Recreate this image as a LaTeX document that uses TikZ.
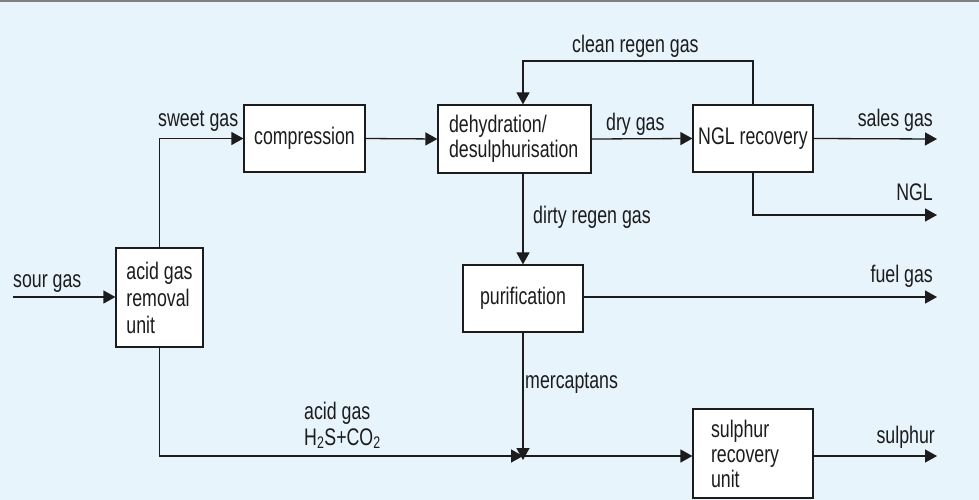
\documentclass[tikz,border=0pt]{standalone}
\usepackage{fontspec}
\setmainfont{Liberation Sans}[FakeStretch=0.74]
\usetikzlibrary{arrows.meta}
\definecolor{bg}{HTML}{E8F4FC}
\definecolor{ink}{HTML}{1C1C1C}
\definecolor{rulegray}{HTML}{808080}
\begin{document}
\begin{tikzpicture}[x=1pt,y=-1pt,
  flow/.style={draw=ink, line width=1.3pt, -{Triangle[length=12pt,width=13pt]}},
  unitbox/.style={draw=ink, fill=white, line width=1.2pt, inner sep=0pt,
    font=\fontsize{24}{25}\selectfont, text=ink},
  lbl/.style={font=\fontsize{24}{25}\selectfont, text=ink, inner sep=0pt},
]
% page background and top rule
\useasboundingbox (0,0) rectangle (979,500);
\fill[bg] (0,0) rectangle (979,500);
\fill[rulegray] (0,0) rectangle (979,2);

% process units
\node[unitbox, minimum width=87pt, minimum height=99pt, align=left,
  font=\fontsize{24}{27}\selectfont] (agru) at (159.5,297.5)
  {acid gas\\removal\\unit};
\node[unitbox, minimum width=121pt, minimum height=67pt] (comp) at (304.5,138.5) {compression};
\node[unitbox, minimum height=68pt, text width=131pt, inner xsep=11pt, align=left] (dehy) at (514.5,139)
  {dehydration/\\desulphurisation};
\node[unitbox, minimum width=120pt, minimum height=67pt] (ngl) at (753,138.5) {NGL recovery};
\node[unitbox, minimum width=120pt, minimum height=67pt] (puri) at (523,298.5) {purification};
\node[unitbox, minimum height=89pt, text width=84pt, inner xsep=18pt, align=left] (sru) at (753,453.5)
  {sulphur\\recovery\\unit};

% free ends and bends
\coordinate (sourStart) at (13,297);
\coordinate (regen) at (523,61);
\coordinate (salesEnd) at (937,139);
\coordinate (nglEnd) at (937,215);
\coordinate (fuelEnd) at (937,297);
\coordinate (mix) at (523,456);
\coordinate (sulphurEnd) at (937,456);

% streams
\draw[flow] (sourStart) -- (sourStart -| agru.west);
\draw[flow] (agru.north) |- (comp.west);
\draw[flow] (comp.east) -- (dehy.west);
\draw[flow] (dehy.east) -- (ngl.west);
\draw[flow] (ngl.north) |- (regen) -- (regen |- dehy.north);
\draw[flow] (ngl.east) -- (salesEnd);
\draw[flow] (ngl.south) |- (nglEnd);
\draw[flow] (puri.north |- dehy.south) -- (puri.north);
\draw[flow] (puri.east |- fuelEnd) -- (fuelEnd);
\draw[flow] (agru.south) |- (mix);
\draw[flow] (puri.south) -- ([yshift=-4pt]mix);
\draw[flow] (mix) -- (mix -| sru.west);
\draw[flow] (sru.east |- mix) -- (sulphurEnd);

% stream labels
\node[lbl, anchor=base west] (sourLbl) at (13,287) {sour gas};
\node[lbl, anchor=base west] (sweetLbl) at (158,127) {sweet gas};
\node[lbl, anchor=base west] (dryLbl) at (606,130) {dry gas};
\node[lbl, anchor=base west] (cleanLbl) at (572,53) {clean regen gas};
\node[lbl, anchor=base east] (salesLbl) at (933,127) {sales gas};
\node[lbl, anchor=base east] (nglLbl) at (933,200) {NGL};
\node[lbl, anchor=base west] (dirtyLbl) at (533,223) {dirty regen gas};
\node[lbl, anchor=base east] (fuelLbl) at (933,282) {fuel gas};
\node[lbl, anchor=base west] (mercLbl) at (525,388) {mercaptans};
\node[lbl, anchor=base west] (acidLbl) at (304,419) {acid gas};
\node[lbl, anchor=base west] (acidFormula) at (304,445) {H\textsubscript{2}S+CO\textsubscript{2}};
\node[lbl, anchor=base east] (sulphurLbl) at (935,443) {sulphur};
\end{tikzpicture}
\end{document}
